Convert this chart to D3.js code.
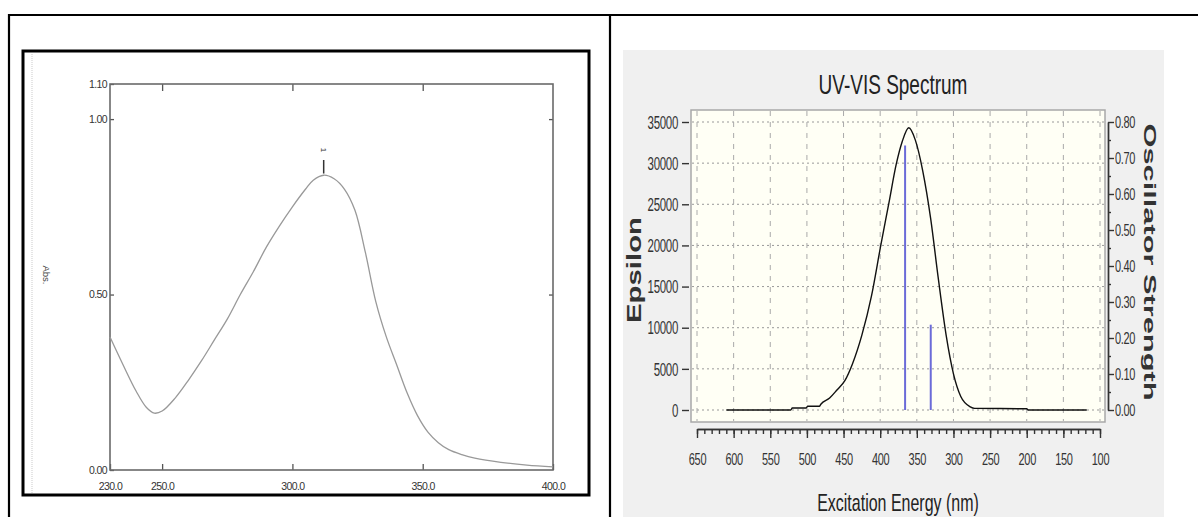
<!DOCTYPE html>
<html lang="en">
<head>
<meta charset="utf-8">
<title>UV-VIS Spectrum</title>
<script src="https://d3js.org/d3.v7.min.js"></script>
<style>
  body { margin: 0; background: #fff; }
  svg { display: block; font-family: Arial, "Liberation Sans", sans-serif; }
</style>
</head>
<body>
<svg id="chart" width="1198" height="517"></svg>
<script>
// left panel: measured absorbance
const absWave = [230, 235, 240, 244, 247, 250, 255, 260, 265, 270, 275, 280, 285, 290, 295, 300, 305, 308, 312, 316, 320, 324, 328, 332, 336, 340, 344, 348, 352, 356, 360, 365, 370, 380, 390, 400];
const absVal = [0.379, 0.30, 0.225, 0.178, 0.162, 0.168, 0.205, 0.255, 0.31, 0.37, 0.43, 0.50, 0.565, 0.635, 0.695, 0.75, 0.80, 0.826, 0.840, 0.830, 0.80, 0.74, 0.62, 0.48, 0.38, 0.30, 0.22, 0.155, 0.108, 0.078, 0.058, 0.044, 0.034, 0.022, 0.014, 0.009];
const absXTicks = [230, 250, 300, 350, 400];
const absYTicks = [0, 0.5, 1.0, 1.1];
const absPeak = 312;

// right panel: computed spectrum
const specWave = [610, 522, 520, 501, 499, 483, 481, 469, 459, 448, 438, 425, 412, 399, 388, 378, 370, 361, 352, 342, 331, 321, 310, 300, 290, 277, 271, 200, 198, 118];
const specEps = [0, 0, 250, 250, 450, 450, 700, 1450, 2430, 3600, 5570, 9100, 13800, 20100, 25200, 29900, 32600, 34300, 32800, 29100, 23200, 16200, 9100, 4400, 1650, 390, 200, 150, 0, 0];
const stickWave = [366, 331];
const stickF = [0.735, 0.237];
const epsTicks = [0, 5000, 10000, 15000, 20000, 25000, 30000, 35000];
const oscTicks = [0, 0.1, 0.2, 0.3, 0.4, 0.5, 0.6, 0.7, 0.8];
const oscMinor = [0.05, 0.15, 0.25, 0.35, 0.45, 0.55, 0.65, 0.75];
const nmTicks = [650, 600, 550, 500, 450, 400, 350, 300, 250, 200, 150, 100];
const nmMinor = d3.range(100, 651, 10);

const svg = d3.select("#chart");

// table lines
svg.append("line").attr("x1", 8).attr("x2", 1198).attr("y1", 15).attr("y2", 15)
  .attr("stroke", "#000").attr("stroke-width", 2.2);
svg.append("line").attr("x1", 9).attr("x2", 9).attr("y1", 14).attr("y2", 517)
  .attr("stroke", "#000").attr("stroke-width", 2.2);
svg.append("line").attr("x1", 610).attr("x2", 610).attr("y1", 14).attr("y2", 517)
  .attr("stroke", "#000").attr("stroke-width", 2.2);

// ---------- left chart ----------
svg.append("rect").attr("x", 23).attr("y", 51).attr("width", 566).attr("height", 444)
  .attr("fill", "#fff").attr("stroke", "#000").attr("stroke-width", 3);
svg.append("line").attr("x1", 32).attr("x2", 32).attr("y1", 54).attr("y2", 493)
  .attr("stroke", "#ddd").attr("stroke-width", 1.5).attr("stroke-dasharray", "1,1");

const xL = d3.scaleLinear().domain([230, 400]).range([110, 553]);
const yL = d3.scaleLinear().domain([0, 1.1]).range([470, 84]);

function styleLeft(g) {
  g.select(".domain").remove();
  g.attr("font-family", null).attr("font-size", null);
  g.selectAll("line").attr("stroke", "#555").attr("stroke-width", 1.3);
  g.selectAll("text").attr("fill", "#333").style("font-size", "10.5px").style("letter-spacing", "-0.6px");
}

svg.append("g").attr("transform", "translate(0,470)")
  .call(d3.axisBottom(xL).tickValues(absXTicks).tickSizeInner(-6).tickSizeOuter(0)
    .tickPadding(13).tickFormat(d3.format(".1f")))
  .call(styleLeft);
svg.append("g").attr("transform", "translate(0,84)")
  .call(d3.axisTop(xL).tickValues([250, 300, 350]).tickSizeInner(-7).tickSizeOuter(0).tickFormat(""))
  .call(styleLeft);
svg.append("g").attr("transform", "translate(110,0)")
  .call(d3.axisLeft(yL).tickValues(absYTicks).tickSizeInner(-4).tickSizeOuter(0)
    .tickPadding(3).tickFormat(d3.format(".2f")))
  .call(styleLeft);
svg.append("g").attr("transform", "translate(553,0)")
  .call(d3.axisRight(yL).tickValues([0.5, 1.0]).tickSizeInner(-4).tickSizeOuter(0).tickFormat(""))
  .call(styleLeft);

svg.append("rect").attr("x", xL(230)).attr("y", yL(1.1))
  .attr("width", xL(400) - xL(230)).attr("height", yL(0) - yL(1.1))
  .attr("fill", "none").attr("stroke", "#6a6a6a").attr("stroke-width", 1.6);

const absLine = d3.line().x((d, i) => xL(absWave[i])).y(d => yL(d)).curve(d3.curveCatmullRom);
svg.append("path").datum(absVal).attr("d", absLine)
  .attr("fill", "none").attr("stroke", "#999").attr("stroke-width", 1.3);

// peak marker
svg.append("line").attr("x1", xL(absPeak)).attr("x2", xL(absPeak))
  .attr("y1", yL(0.842) - 1).attr("y2", 160).attr("stroke", "#333").attr("stroke-width", 1.5);
svg.append("text").attr("transform", `translate(${xL(absPeak)},150) rotate(90)`)
  .attr("text-anchor", "middle").attr("dy", "0.35em").style("font-size", "8px")
  .attr("fill", "#333").text("1");

svg.append("text").attr("transform", "translate(46,275) rotate(90)")
  .attr("text-anchor", "middle").attr("dy", "0.35em").style("font-size", "9.5px")
  .attr("fill", "#444").text("Abs.");

// ---------- right chart ----------
svg.append("rect").attr("x", 623).attr("y", 50).attr("width", 541).attr("height", 467)
  .attr("fill", "#f0f0f0");

const xR = d3.scaleLinear().domain([650, 100]).range([697, 1100]);
const yR = d3.scaleLinear().domain([0, 35000]).range([410, 122]);
const yF = d3.scaleLinear().domain([0, 0.8]).range([410, 122]);

svg.append("rect").attr("x", 691).attr("y", 110).attr("width", 414).attr("height", 312)
  .attr("fill", "#fffff5").attr("stroke", "#a8a8a8").attr("stroke-width", 1.5);

// grid
svg.append("g").selectAll("line").data(epsTicks).join("line")
  .attr("x1", 692).attr("x2", 1104).attr("y1", d => yR(d)).attr("y2", d => yR(d))
  .attr("stroke", "#999").attr("stroke-dasharray", "2,3");
svg.append("g").selectAll("line").data(nmTicks).join("line")
  .attr("x1", d => xR(d)).attr("x2", d => xR(d)).attr("y1", 111).attr("y2", 421)
  .attr("stroke", "#aaa").attr("stroke-dasharray", "5,6");

const specLine = d3.line().x((d, i) => xR(specWave[i])).y(d => yR(d)).curve(d3.curveMonotoneX);
svg.append("path").datum(specEps).attr("d", specLine)
  .attr("fill", "none").attr("stroke", "#111").attr("stroke-width", 1.4);

svg.append("g").selectAll("line").data(stickF).join("line")
  .attr("x1", (d, i) => xR(stickWave[i])).attr("x2", (d, i) => xR(stickWave[i]))
  .attr("y1", yF(0)).attr("y2", d => yF(d))
  .attr("stroke", "#6b6bd8").attr("stroke-width", 2);

function styleRight(g, size) {
  g.attr("font-family", null).attr("font-size", null);
  g.selectAll("line").attr("stroke", "#333").attr("stroke-width", 1.4);
  g.select(".domain").attr("stroke", "#333").attr("stroke-width", 1.4);
  g.selectAll("text").attr("fill", "#333").style("font-size", size + "px")
    .style("letter-spacing", "-0.3px")
    .attr("dy", "0.35em").attr("transform", "scale(1,1.55)");
}

svg.append("g").attr("transform", "translate(689,0)")
  .call(d3.axisLeft(yR).tickValues(epsTicks).tickSize(7).tickPadding(4).tickFormat(d3.format("d")))
  .call(g => { styleRight(g, 11.5); g.select(".domain").remove(); });

svg.append("g").attr("transform", "translate(1108,0)")
  .call(d3.axisRight(yF).tickValues(oscMinor).tickSize(3).tickSizeOuter(0).tickFormat(""))
  .call(g => styleRight(g, 11));
svg.append("g").attr("transform", "translate(1108,0)")
  .call(d3.axisRight(yF).tickValues(oscTicks).tickSize(6).tickSizeOuter(0).tickPadding(1)
    .tickFormat(d3.format(".2f")))
  .call(g => styleRight(g, 11));

svg.append("g").attr("transform", "translate(0,429)")
  .call(d3.axisBottom(xR).tickValues(nmMinor).tickSize(5).tickSizeOuter(0).tickFormat(""))
  .call(g => styleRight(g, 11));
svg.append("g").attr("transform", "translate(0,429)")
  .call(d3.axisBottom(xR).tickValues(nmTicks).tickSize(9).tickSizeOuter(0))
  .call(g => { styleRight(g, 11); g.selectAll("text").attr("y", 30 / 1.55); });

svg.append("text").attr("transform", "translate(893,84) scale(1,1.5)")
  .attr("text-anchor", "middle").attr("dy", "0.35em").style("font-size", "19px")
  .attr("fill", "#222").text("UV-VIS Spectrum");
svg.append("text").attr("transform", "translate(898,503) scale(1,1.5)")
  .attr("text-anchor", "middle").attr("dy", "0.35em").style("font-size", "16px")
  .attr("fill", "#222").text("Excitation Energy (nm)");
svg.append("text").attr("transform", "translate(634,270) rotate(-90)")
  .attr("text-anchor", "middle").attr("dy", "0.35em").style("font-size", "21px")
  .style("font-weight", "bold").attr("textLength", 106).attr("lengthAdjust", "spacingAndGlyphs")
  .attr("fill", "#333").text("Epsilon");
svg.append("text").attr("transform", "translate(1150,262) rotate(90)")
  .attr("text-anchor", "middle").attr("dy", "0.35em").style("font-size", "17px")
  .style("font-weight", "bold").attr("textLength", 277).attr("lengthAdjust", "spacingAndGlyphs")
  .attr("fill", "#333").text("Oscillator Strength");
</script>
</body>
</html>
